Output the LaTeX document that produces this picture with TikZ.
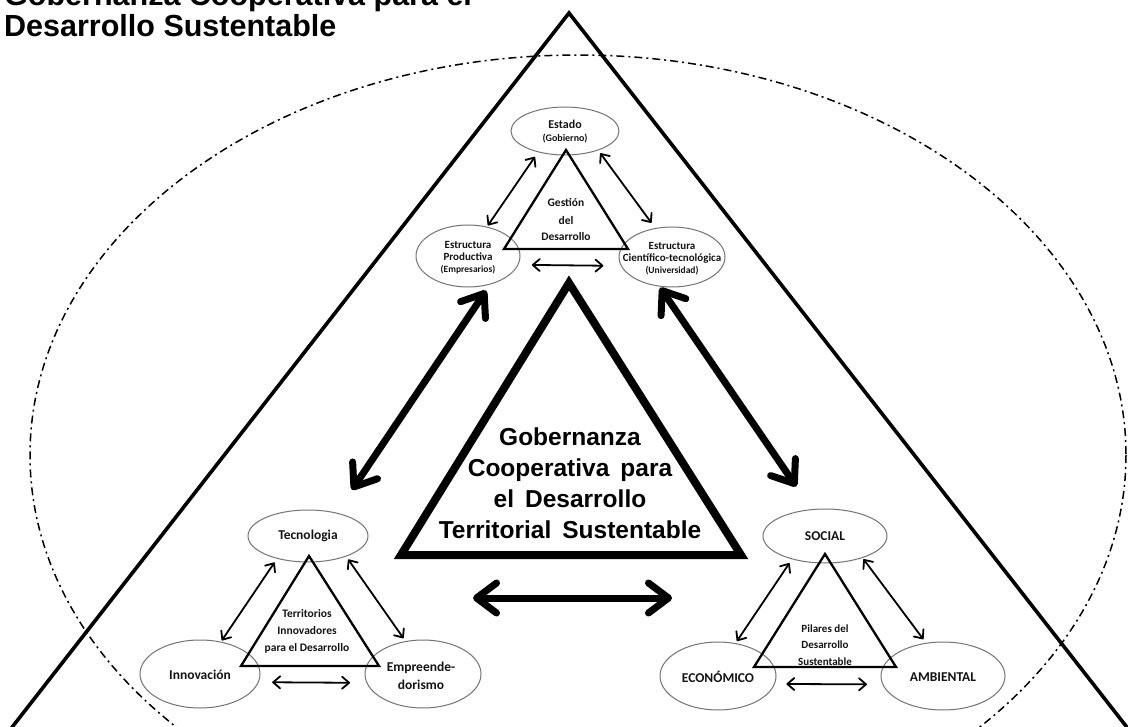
\documentclass[tikz,border=0pt]{standalone}
\usepackage{fontspec}
\setmainfont{Carlito}
\newfontfamily\arial{Liberation Sans}
\newcommand\widesp{\spaceskip=0.45em\relax}
\usetikzlibrary{shapes.geometric,arrows.meta}
\begin{document}
\begin{tikzpicture}[x=1pt,y=-1pt,
  ell/.style={ellipse, draw=black!55, line width=1pt, inner sep=0pt, outer sep=0pt},
  lbl/.style={align=center, text=black!92, inner sep=0pt, font=\bfseries},
  twoway/.style={line width=1.8pt, line cap=round, >={Straight Barb[length=7pt,width=12pt,round]}, <->},
  bigway/.style={line width=7pt, line cap=round, >={Straight Barb[length=20pt,width=30pt,round]}, <->},
  smalltri/.style={draw, line width=2.3pt, line join=miter},
  legs/.style={line width=3.6pt, line join=miter},
]
\useasboundingbox (0,0) rectangle (1128,727);
\fill[white] (0,0) rectangle (1128,727);

% dash-dot ellipse
\draw[line width=1.5pt, dash pattern=on 8pt off 4pt on 2pt off 4pt] (578,455) ellipse [x radius=548, y radius=400];

% big triangle legs
\draw[legs] (6,735) -- (569,13) -- (1133,735);

% title
\node[anchor=base west, inner sep=0pt, font=\arial\bfseries\fontsize{30.5}{31}\selectfont] (title1) at (4,6) {Gobernanza Cooperativa para el};
\node[anchor=base west, inner sep=0pt, font=\arial\bfseries\fontsize{30.5}{31}\selectfont] (title2) at (4,37) {Desarrollo Sustentable};

% ellipses
\node[ell, minimum width=108pt, minimum height=48pt] (estado) at (565,131) {};
\node[ell, minimum width=104pt, minimum height=62pt] (prod) at (468,256) {};
\node[ell, minimum width=106pt, minimum height=60pt] (cient) at (672,257) {};
\node[ell, minimum width=120pt, minimum height=52pt] (tec) at (308,536) {};
\node[ell, minimum width=120pt, minimum height=68pt] (innov) at (200,674) {};
\node[ell, minimum width=116pt, minimum height=68pt] (emp) at (423,674) {};
\node[ell, minimum width=124pt, minimum height=54pt] (social) at (825,536) {};
\node[ell, minimum width=116pt, minimum height=68pt] (econ) at (718,676) {};
\node[ell, minimum width=124pt, minimum height=68pt] (amb) at (943,676) {};

% small triangles
\draw[smalltri] (566,150) -- (628,249) -- (504,249) -- cycle;
\draw[smalltri] (309,556) -- (379,666) -- (241,666) -- cycle;
\draw[smalltri] (825,554) -- (896,667) -- (754,667) -- cycle;

% central triangle
\draw[line width=8pt, line join=miter] (569,283) -- (741,555) -- (401,555) -- cycle;

% labels
\node[lbl] (estadoT) at (565,132) {\fontsize{12}{14}\selectfont Estado\\[1pt]\fontsize{10}{12}\selectfont (Gobierno)};
\node[lbl] (prodT) at (468,258) {\fontsize{11}{14}\selectfont Estructura\\\fontsize{11}{14}\selectfont Productiva\\\fontsize{9.5}{14}\selectfont (Empresarios)};
\node[lbl] (cientT) at (672,259) {\fontsize{11}{13}\selectfont Estructura\\\fontsize{11}{13}\selectfont Científico-tecnológica\\\fontsize{9.5}{13}\selectfont (Universidad)};
\node[lbl, font=\bfseries\fontsize{11.5}{17}\selectfont] (gestT) at (566,220) {Gestión\\del\\Desarrollo};
\node[lbl, font=\bfseries\fontsize{13.5}{16}\selectfont] (tecT) at (308,536) {Tecnologia};
\node[lbl, font=\bfseries\fontsize{13.5}{16}\selectfont] (innovT) at (200,675) {Innovación};
\node[lbl, font=\bfseries\fontsize{13.5}{18}\selectfont] (empT) at (421,676) {Empreende-\\dorismo};
\node[lbl, font=\bfseries\fontsize{11.5}{17}\selectfont] (terrT) at (307,631) {Territorios\\Innovadores\\para el Desarrollo};
\node[lbl, font=\bfseries\fontsize{13.5}{16}\selectfont] (socialT) at (825,536) {SOCIAL};
\node[lbl, font=\bfseries\fontsize{13.5}{16}\selectfont] (econT) at (718,677) {ECONÓMICO};
\node[lbl, font=\bfseries\fontsize{13.5}{16}\selectfont] (ambT) at (943,677) {AMBIENTAL};
\node[lbl, font=\bfseries\fontsize{11}{16.5}\selectfont] (pilT) at (825,645) {Pilares del\\Desarrollo\\Sustentable};
\node[align=center, inner sep=0pt, font=\arial\bfseries\fontsize{24.5}{31}\selectfont\widesp] (centralT) at (570,483) {Gobernanza\\Cooperativa para\\el Desarrollo\\Territorial Sustentable};

% thin arrows
\draw[twoway, shorten <=6pt, shorten >=2pt] (estado.218.4) -- (prod.57.3);
\draw[twoway, shorten <=4pt, shorten >=7pt] (estado.-30.1) -- (cient.120.8);
\draw[twoway, shorten <=14pt, shorten >=18pt] (prod.-10) -- (cient.190);
\draw[twoway, shorten <=5pt, shorten >=2pt] (tec.216.9) -- (innov.57.2);
\draw[twoway, shorten <=4pt, shorten >=4pt] (tec.-28.5) -- (emp.118.4);
\draw[twoway, shorten <=14pt, shorten >=17pt] (innov.-8.8) -- (emp.189.1);
\draw[twoway, shorten <=5pt, shorten >=3pt] (social.215.5) -- (econ.62);
\draw[twoway, shorten <=2pt, shorten >=5pt] (social.-30.3) -- (amb.117.7);
\draw[twoway, shorten <=12pt, shorten >=16pt] (econ.-8.8) -- (amb.188.8);

% thick arrows
\coordinate (hl) at (473,598);
\coordinate (hr) at (672,598);
\draw[bigway, shorten <=8pt, shorten >=28pt] (prod.-51.6) -- (tec.39.4);
\draw[bigway, shorten <=2pt, shorten >=28pt] (cient.246.8) -- (social.116);
\draw[bigway] (hl) -- (hr);
\end{tikzpicture}
\end{document}
